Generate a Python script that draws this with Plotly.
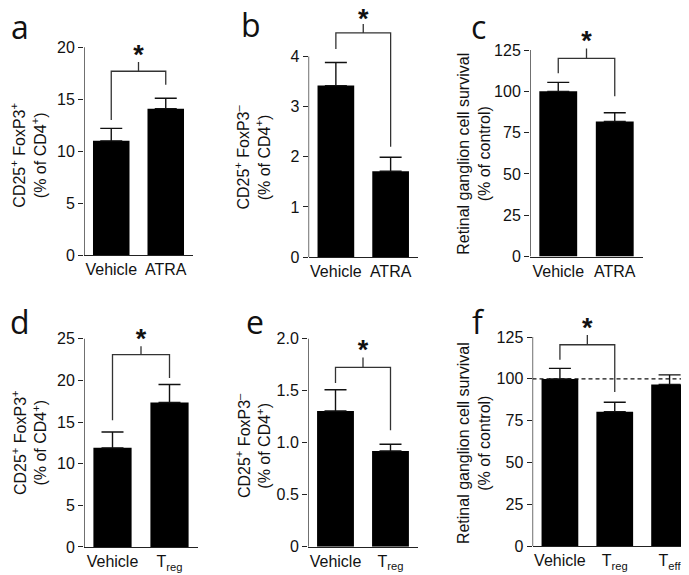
import plotly.graph_objects as go

W, H = 689, 575

# ---------------- data ----------------
cats_atra = ["Vehicle", "ATRA"]
cats_treg = ["Vehicle", "T<sub>reg</sub>"]
cats_f = ["Vehicle", "T<sub>reg</sub>", "T<sub>eff</sub>"]

a_vals = [11.0, 14.1]
a_err = [1.2, 1.0]
b_vals = [3.42, 1.71]
b_err = [0.46, 0.28]
c_vals = [100.0, 81.7]
c_err = [5.4, 5.3]
d_vals = [11.9, 17.35]
d_err = [1.9, 2.15]
e_vals = [1.305, 0.92]
e_err = [0.205, 0.065]
f_vals = [100.0, 80.4, 96.7]
f_err = [6.3, 5.6, 5.7]

# significance brackets: (left leg bottom, bar height, right leg bottom, centre tick top, star)
a_brk = [13.0, 17.7, 16.4, 18.6, 19.5]
b_brk = [4.15, 4.47, 2.2, 4.65, 4.81]
c_brk = [111.0, 120.0, 97.0, 126.0, 132.0]
d_brk = [15.2, 23.1, 20.3, 24.1, 25.3]
e_brk = [1.575, 1.725, 1.12, 1.82, 1.92]
f_brk = [111.5, 120.4, 92.2, 126.3, 132.0]

a_ticks = [0, 5, 10, 15, 20]
b_ticks = [0, 1, 2, 3, 4]
c_ticks = [0, 25, 50, 75, 100, 125]
d_ticks = [0, 5, 10, 15, 20, 25]
e_ticks = [0, 0.5, 1.0, 1.5, 2.0]
e_ticktext = ["0", "0.5", "1.0", "1.5", "2.0"]
f_ticks = [0, 25, 50, 75, 100, 125]
f_ref = 100

title_pos = "CD25<sup>+</sup> FoxP3<sup>+</sup><br>(% of CD4<sup>+</sup>)"
title_neg = "CD25<sup>+</sup> FoxP3<sup>\u2013</sup><br>(% of CD4<sup>+</sup>)"
title_rgc = "Retinal ganglion cell survival<br>(% of control)"

# ---------------- layout helpers (pixel -> paper) ----------------
def px_x(p):
    return p / W

def px_y(p):
    return 1 - p / H

FONT = "Liberation Sans, Arial, sans-serif"
TICKFONT = dict(family=FONT, size=16, color="#111")
AXC = "#222"
STAR_SHIFT_PX = 5  # the asterisk glyph sits above its text-box centre

panels = [
    # name, cats, vals, err, brk, ticks, ticktext, x px, (y px of 0, y px of top tick), range top, title, title px, letter px
    ("a", cats_atra, a_vals, a_err, a_brk, a_ticks, None, (76, 185), (251, 40), 23.0, title_pos, (21, 150), (12, 19)),
    ("b", cats_atra, b_vals, b_err, b_brk, b_ticks, None, (300.5, 410), (253, 49.3), 4.95, title_neg, (245, 152), (243, 17)),
    ("c", cats_atra, c_vals, c_err, c_brk, c_ticks, None, (522, 635), (252.5, 42.7), 145.0, title_rgc, (466, 148), (470, 19)),
    ("d", cats_treg, d_vals, d_err, d_brk, d_ticks, None, (76, 190), (547.5, 336), 30.0, title_pos, (21, 442), (12, 318)),
    ("e", cats_treg, e_vals, e_err, e_brk, e_ticks, e_ticktext, (300, 410), (547.3, 336), 2.3, title_neg, (245, 445), (247, 318)),
    ("f", cats_f, f_vals, f_err, f_brk, f_ticks, None, (524.5, 689), (546.7, 334.3), 145.0, title_rgc, (466, 442), (470, 318)),
]

fig = go.Figure()
annotations = []

for i, (name, cats, vals, err, brk, ticks, ttext, xd, yd, rtop, ttl, tpos, lpos) in enumerate(panels):
    n = i + 1
    xa = "x" if n == 1 else f"x{n}"
    ya = "y" if n == 1 else f"y{n}"
    xs = list(range(len(cats)))
    xlo, xhi = -0.5, len(cats) - 0.5
    y0px, ytpx = yd
    ppu = (y0px - ytpx) / ticks[-1]
    dom_top_px = y0px - rtop * ppu

    fig.add_trace(go.Bar(
        x=xs, y=vals, xaxis=xa, yaxis=ya, width=0.67,
        marker=dict(color="black", line=dict(width=0)),
        error_y=dict(type="data", array=err, arrayminus=[0] * len(err), symmetric=False,
                     color="#111", thickness=1.4, width=11),
        showlegend=False, hoverinfo="skip",
    ))
    # y axis line, only up to the top tick
    fig.add_trace(go.Scatter(
        x=[xlo, xlo], y=[0, ticks[-1]], mode="lines", line=dict(color=AXC, width=1.3),
        xaxis=xa, yaxis=ya, cliponaxis=False, showlegend=False, hoverinfo="skip",
    ))
    L, B, R, C, S = brk
    fig.add_trace(go.Scatter(
        x=[0, 0, 1, 1, None, 0.5, 0.5], y=[L, B, B, R, None, B, C],
        mode="lines", line=dict(color="#333", width=1.3),
        xaxis=xa, yaxis=ya, cliponaxis=False, showlegend=False, hoverinfo="skip",
    ))
    fig.add_trace(go.Scatter(
        x=[0.5], y=[S - STAR_SHIFT_PX / ppu], mode="text", text=["<b>*</b>"],
        textposition="middle center",
        textfont=dict(family=FONT, size=27, color="#111"),
        xaxis=xa, yaxis=ya, cliponaxis=False, showlegend=False, hoverinfo="skip",
    ))
    if name == "f":
        fig.add_trace(go.Scatter(
            x=[xlo, xhi], y=[f_ref, f_ref], mode="lines",
            line=dict(color="#111", width=1.2, dash="4px,3px"),
            xaxis=xa, yaxis=ya, cliponaxis=False, showlegend=False, hoverinfo="skip",
        ))
    xkey = "xaxis" if n == 1 else f"xaxis{n}"
    ykey = "yaxis" if n == 1 else f"yaxis{n}"
    fig.update_layout({
        xkey: dict(domain=[px_x(xd[0]), px_x(xd[1])], anchor=ya, range=[xlo, xhi],
                   tickvals=xs, ticktext=cats, showline=True, linecolor=AXC, linewidth=1.3,
                   ticks="", showgrid=False, zeroline=False, tickfont=TICKFONT, fixedrange=True),
        ykey: dict(domain=[px_y(y0px), px_y(dom_top_px)], anchor=xa, range=[0, rtop],
                   tickvals=ticks, ticktext=ttext if ttext else [str(t) for t in ticks],
                   showline=False, ticks="outside", ticklen=5,
                   tickwidth=1.3, tickcolor=AXC, showgrid=False, zeroline=False,
                   tickfont=TICKFONT, fixedrange=True),
    })
    annotations.append(dict(
        text=ttl, x=px_x(tpos[0]), y=px_y(tpos[1]), xref="paper", yref="paper",
        textangle=-90, showarrow=False, xanchor="center", yanchor="middle",
        font=dict(family=FONT, size=16, color="#111"),
    ))
    annotations.append(dict(
        text=name, x=px_x(lpos[0]), y=px_y(lpos[1]), xref="paper", yref="paper",
        showarrow=False, xanchor="center", yanchor="middle",
        font=dict(family="Open Sans, Noto Sans, sans-serif", size=32, color="#111"),
    ))

fig.update_layout(
    width=W, height=H, margin=dict(l=0, r=0, t=0, b=0),
    paper_bgcolor="white", plot_bgcolor="white",
    annotations=annotations, bargap=0.33,
)

fig.write_html("out.html")
